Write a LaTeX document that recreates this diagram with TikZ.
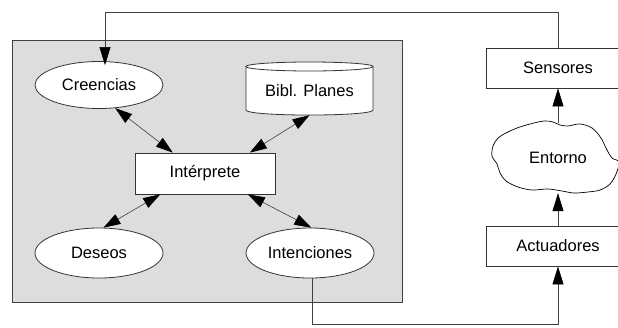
\documentclass[tikz,border=0pt]{standalone}
\usepackage{fontspec}
\setmainfont{Liberation Sans}
\usetikzlibrary{arrows.meta,calc,shapes.geometric}
\begin{document}
\begin{tikzpicture}[x=1pt,y=-1pt,
  font=\fontsize{16.5}{19}\selectfont,
  ell/.style={ellipse,draw=black!80,fill=white,line width=0.8pt,
    minimum width=128pt,minimum height=47pt,inner sep=0pt},
  box/.style={rectangle,draw=black!80,fill=white,line width=0.8pt,inner sep=0pt},
  link/.style={line width=0.6pt,draw=black!75},
  tip/.style={-{Triangle[length=18pt,width=11pt,color=black]}},
  both/.style={{Triangle[length=17pt,width=11pt,color=black]}-{Triangle[length=17pt,width=11pt,color=black]}}]

\useasboundingbox (0,0) rectangle (618,327);
\clip (0,0) rectangle (618,327);
\fill[white] (0,0) rectangle (618,327);

% agent panel
\draw[fill=gray!27,draw=black!75,line width=0.8pt] (12,40) rectangle (402,302);

% plan library drawn as a cylinder
\fill[white] (246,66.5) -- (246,110) .. controls (246,116.7) and (373,116.7) .. (373,110)
  -- (373,66.5) .. controls (373,60.5) and (246,60.5) .. (246,66.5);
\draw[black!80,line width=0.8pt] (309.5,66.5) ellipse [x radius=63.5, y radius=4.5];
\draw[black!80,line width=0.8pt] (246,66.5) -- (246,110) .. controls (246,116.7) and (373,116.7) .. (373,110) -- (373,66.5);
\node[inner sep=0pt,minimum width=127pt,minimum height=48pt] (bib) at (309.5,91) {Bibl. Planes};

% agent components
\node[ell] (cre) at (99,85) {Creencias};
\node[ell,minimum height=50pt] (des) at (99,253) {Deseos};
\node[ell,minimum height=50pt] (ite) at (310,253) {Intenciones};
\node[box,minimum width=140pt,minimum height=41pt] (int) at (205,173.5) {Intérprete};

% environment side
\node[box,minimum width=144pt,minimum height=40pt] (sen) at (558,68) {Sensores};
\node[box,minimum width=144pt,minimum height=40pt] (act) at (558,246) {Actuadores};
\fill[white,draw=black,line width=0.7pt] plot[smooth cycle,tension=0.55] coordinates {
  (492,156) (493,146) (498,138) (506,133) (517,128) (530,124) (544,121) (553,122)
  (560,125) (568,126) (580,124) (592,128) (601,138) (607,150) (612,158) (619,162)
  (616,174) (610,184) (600,190) (588,192) (574,193) (562,191) (548,189) (532,190)
  (518,187) (506,181) (500,173) (497,164)};
\node[inner sep=0pt,minimum width=120pt,minimum height=70pt] (env) at (558,158) {Entorno};

% links inside the agent
\draw[link,both] (cre.-55) -- (int.147.5);
\draw[link,both] (bib.south) -- (int.25);
\draw[link,both] (des.80) -- (int.-155.7);
\draw[link,both] (ite.87) -- (int.-26);

% perception loop
\draw[link,tip] (act.north) -- (env.south);
\draw[link,tip] (env.north) -- (sen.south);
\coordinate (tr) at (558,12);
\coordinate (tl) at (105,12);
\draw[link,tip,shorten >=-4pt] (sen.north) -- (tr) -- (tl) -- (tl |- cre.north);

% action loop
\coordinate (bl) at (312,324);
\coordinate (br) at (558,324);
\draw[link,tip] ([xshift=2pt]ite.south) -- (bl) -- (br) -- (act.south);
\end{tikzpicture}
\end{document}
